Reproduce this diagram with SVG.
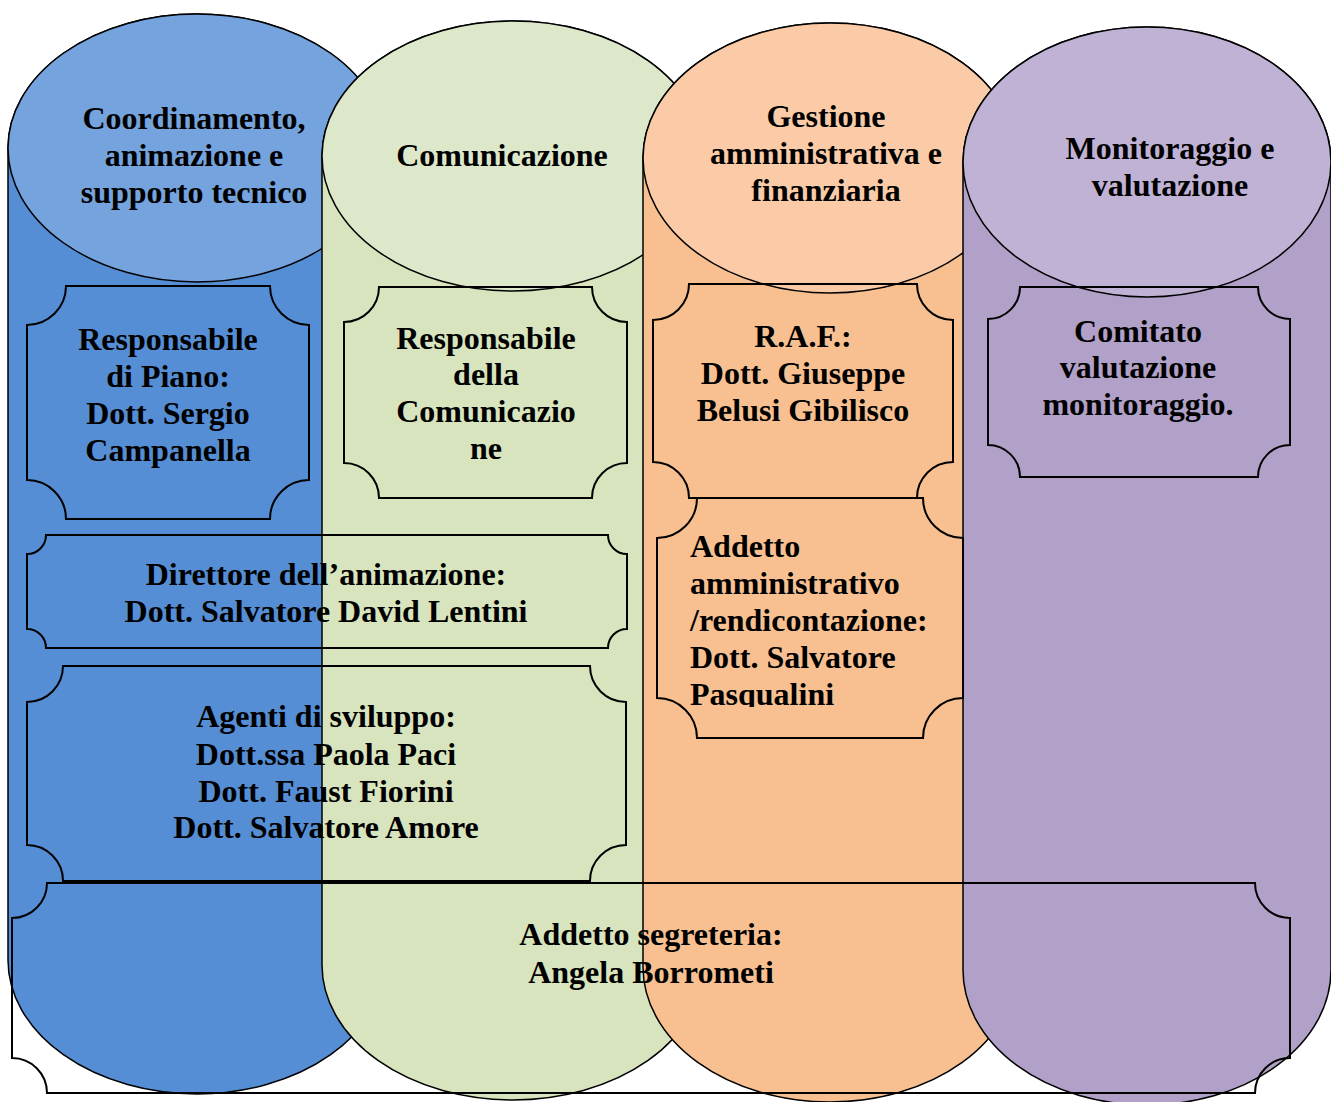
<svg xmlns="http://www.w3.org/2000/svg" width="1331" height="1102" viewBox="0 0 1331 1102">
<style>
.body{stroke:#000;stroke-width:1.5}
.top{stroke:#000;stroke-width:1.5}
.plq{fill:none;stroke:#000;stroke-width:2}
text{font-family:"Liberation Serif","Times New Roman",serif;font-weight:bold;font-size:32px;fill:#000}
.c{text-anchor:middle}
</style>
<defs>
<clipPath id="clipAdd"><rect x="657" y="498" width="306" height="209"/></clipPath>
</defs>
<rect width="1331" height="1102" fill="#fff"/>
<g id="cyl1">
<path class="body" fill="#558ED5" d="M8,148 L8,960 A189 134 0 0 0 386,960 L386,148 A189 134 0 0 0 8,148 Z"/>
<ellipse class="top" fill="#74A3DD" cx="197" cy="148" rx="189" ry="134"/>
<text class="c" x="194" y="129">Coordinamento,</text>
<text class="c" x="194" y="166">animazione e</text>
<text class="c" x="194" y="203">supporto tecnico</text>
</g>
<g id="cyl2">
<path class="body" fill="#D7E4BD" d="M322,156 L322,965 A191 135 0 0 0 704,965 L704,156 A191 135 0 0 0 322,156 Z"/>
<ellipse class="top" fill="#DDE8CB" cx="513" cy="156" rx="191" ry="135"/>
<text class="c" x="502" y="166">Comunicazione</text>
</g>
<g id="cyl3">
<path class="body" fill="#F8C090" d="M643,158 L643,967 A187 135 0 0 0 1017,967 L1017,158 A187 135 0 0 0 643,158 Z"/>
<ellipse class="top" fill="#FACBA6" cx="830" cy="158" rx="187" ry="135"/>
<text class="c" x="826" y="127">Gestione</text>
<text class="c" x="826" y="164">amministrativa e</text>
<text class="c" x="826" y="201">finanziaria</text>
</g>
<g id="cyl4">
<path class="body" fill="#B1A0C7" d="M963,162 L963,970 A184 135 0 0 0 1331,970 L1331,162 A184 135 0 0 0 963,162 Z"/>
<ellipse class="top" fill="#C0B2D4" cx="1147" cy="162" rx="184" ry="135"/>
<text class="c" x="1170" y="159">Monitoraggio e</text>
<text class="c" x="1170" y="196">valutazione</text>
</g>
<g id="connectors"></g>
<g id="resp-piano">
<path class="plq" d="M66,286 H270 A39 39 0 0 0 309,325 V480 A39 39 0 0 0 270,519 H66 A39 39 0 0 0 27,480 V325 A39 39 0 0 0 66,286 Z"/>
<text class="c" x="168" y="350">Responsabile</text>
<text class="c" x="168" y="387">di Piano:</text>
<text class="c" x="168" y="424">Dott. Sergio</text>
<text class="c" x="168" y="461">Campanella</text>
</g>
<g id="resp-com">
<path class="plq" d="M379,287 H592 A35 35 0 0 0 627,322 V463 A35 35 0 0 0 592,498 H379 A35 35 0 0 0 344,463 V322 A35 35 0 0 0 379,287 Z"/>
<text class="c" x="486" y="349">Responsabile</text>
<text class="c" x="486" y="385">della</text>
<text class="c" x="486" y="422">Comunicazio</text>
<text class="c" x="486" y="459">ne</text>
</g>
<g id="raf">
<path class="plq" d="M689,284 H917 A36 36 0 0 0 953,320 V462 A36 36 0 0 0 917,498 H689 A36 36 0 0 0 653,462 V320 A36 36 0 0 0 689,284 Z"/>
<text class="c" x="803" y="347">R.A.F.:</text>
<text class="c" x="803" y="384">Dott. Giuseppe</text>
<text class="c" x="803" y="421">Belusi Gibilisco</text>
</g>
<g id="addetto-amm">
<path class="plq" d="M697,498 H923 A40 40 0 0 0 963,538 V698 A40 40 0 0 0 923,738 H697 A40 40 0 0 0 657,698 V538 A40 40 0 0 0 697,498 Z"/>
<g clip-path="url(#clipAdd)">
<text x="690" y="557">Addetto</text>
<text x="690" y="594">amministrativo</text>
<text x="690" y="631">/rendicontazione:</text>
<text x="690" y="668">Dott. Salvatore</text>
<text x="690" y="705">Pasqualini</text>
</g>
</g>
<g id="comitato">
<path class="plq" d="M1020,287 H1258 A32 32 0 0 0 1290,319 V445 A32 32 0 0 0 1258,477 H1020 A32 32 0 0 0 988,445 V319 A32 32 0 0 0 1020,287 Z"/>
<text class="c" x="1138" y="342">Comitato</text>
<text class="c" x="1138" y="378">valutazione</text>
<text class="c" x="1138" y="415">monitoraggio.</text>
</g>
<g id="direttore">
<path class="plq" d="M46,535 H608 A19 19 0 0 0 627,554 V629 A19 19 0 0 0 608,648 H46 A19 19 0 0 0 27,629 V554 A19 19 0 0 0 46,535 Z"/>
<text class="c" x="326" y="585">Direttore dell’animazione:</text>
<text class="c" x="326" y="622">Dott. Salvatore David Lentini</text>
</g>
<g id="agenti">
<path class="plq" d="M63,666 H590 A36 36 0 0 0 626,702 V845 A36 36 0 0 0 590,881 H63 A36 36 0 0 0 27,845 V702 A36 36 0 0 0 63,666 Z"/>
<text class="c" x="326" y="727">Agenti di sviluppo:</text>
<text class="c" x="326" y="765">Dott.ssa Paola Paci</text>
<text class="c" x="326" y="802">Dott. Faust Fiorini</text>
<text class="c" x="326" y="838">Dott. Salvatore Amore</text>
</g>
<g id="segreteria">
<path class="plq" d="M47,883 H1255 A35 35 0 0 0 1290,918 V1058 A35 35 0 0 0 1255,1093 H47 A35 35 0 0 0 12,1058 V918 A35 35 0 0 0 47,883 Z"/>
<text class="c" x="651" y="945">Addetto segreteria:</text>
<text class="c" x="651" y="983">Angela Borrometi</text>
</g>
</svg>
